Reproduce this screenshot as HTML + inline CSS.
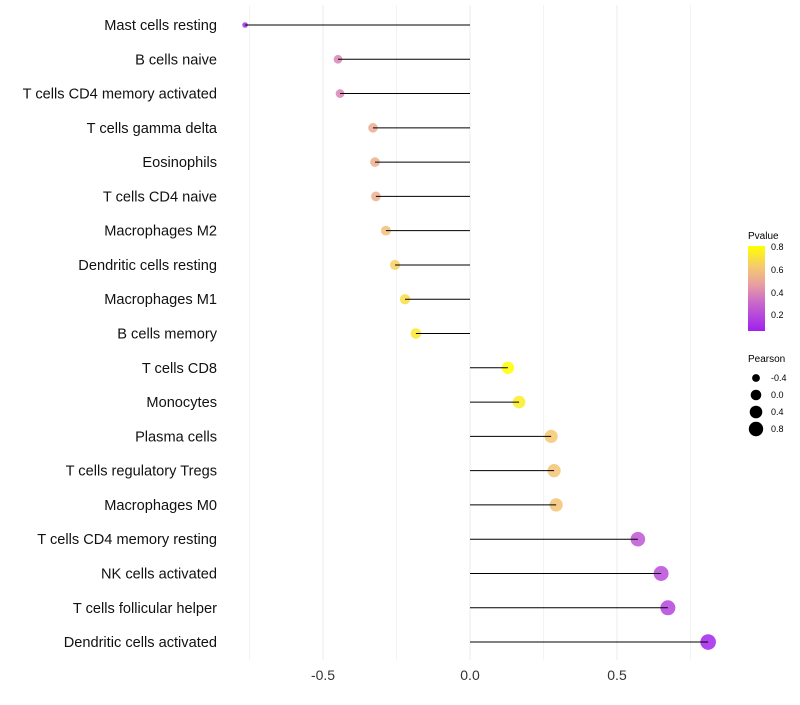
<!DOCTYPE html>
<html><head><meta charset="utf-8"><style>
body{margin:0;background:#fff;font-family:"Liberation Sans",sans-serif}
</style></head><body>
<svg id="chart" width="800" height="700" xmlns="http://www.w3.org/2000/svg">
<defs>
<linearGradient id="pg" x1="0" y1="1" x2="0" y2="0">
<stop offset="0" stop-color="#a020f0"/>
<stop offset="0.35" stop-color="#cc6cc8"/>
<stop offset="0.55" stop-color="#e8a0a0"/>
<stop offset="0.75" stop-color="#f5c870"/>
<stop offset="1" stop-color="#ffff00"/>
</linearGradient>
</defs>
<g id="grid"></g><g id="marks"></g><g id="labels"></g>
<g>
<text x="748" y="239" font-size="10" fill="#000">Pvalue</text>
<rect x="748" y="246" width="17" height="85" fill="url(#pg)"/>
<text x="771" y="250" font-size="9">0.8</text>
<text x="771" y="273" font-size="9">0.6</text>
<text x="771" y="296" font-size="9">0.4</text>
<text x="771" y="318" font-size="9">0.2</text>
</g>
<g>
<text x="748" y="362" font-size="10">Pearson</text>
<circle cx="756" cy="378" r="3.9"/><text x="771" y="381" font-size="9">-0.4</text>
<circle cx="756" cy="395" r="5.3"/><text x="771" y="398" font-size="9">0.0</text>
<circle cx="756" cy="412" r="6.3"/><text x="771" y="415" font-size="9">0.4</text>
<circle cx="756" cy="429" r="7.2"/><text x="771" y="432" font-size="9">0.8</text>
</g>
</svg>
<script>
const categories=["Mast cells resting","B cells naive","T cells CD4 memory activated","T cells gamma delta","Eosinophils","T cells CD4 naive","Macrophages M2","Dendritic cells resting","Macrophages M1","B cells memory","T cells CD8","Monocytes","Plasma cells","T cells regulatory  Tregs ","Macrophages M0","T cells CD4 memory resting","NK cells activated","T cells follicular helper","Dendritic cells activated"];
const pearson=[-0.765,-0.449,-0.442,-0.33,-0.323,-0.32,-0.286,-0.255,-0.221,-0.184,0.129,0.167,0.276,0.286,0.293,0.571,0.65,0.673,0.81];
const pvalue=[0.05,0.38,0.38,0.52,0.53,0.53,0.6,0.67,0.72,0.76,0.85,0.78,0.64,0.62,0.62,0.22,0.18,0.15,0.04];
const xTicks=[-0.5,0,0.5];
const xTickLabels=["-0.5","0.0","0.5"];
const NS="http://www.w3.org/2000/svg";
const x=v=>470+v*294;
const y=i=>25+i*34.28;
const stops=[[0.02,[160,32,240]],[0.3,[204,108,200]],[0.47,[232,160,160]],[0.64,[245,200,112]],[0.85,[255,255,0]]];
function col(p){if(p<=stops[0][0])return stops[0][1];for(let k=1;k<stops.length;k++){if(p<=stops[k][0]){const a=stops[k-1],b=stops[k],t=(p-a[0])/(b[0]-a[0]);return a[1].map((c,j)=>Math.round(c+(b[1][j]-c)*t));}}return stops[stops.length-1][1];}
function el(t,a,p){const e=document.createElementNS(NS,t);for(const k in a)e.setAttribute(k,a[k]);p.appendChild(e);return e;}
const grid=document.getElementById('grid'),marks=document.getElementById('marks'),labels=document.getElementById('labels');
for(let v=-0.75;v<=0.76;v+=0.25){const g=el('line',{x1:x(v),x2:x(v),y1:5,y2:660,stroke:'#ebebeb','stroke-width':Math.abs(v*4)%2<0.01?1:0.6},grid);

}
xTicks.forEach((v,i)=>{const t=el('text',{x:x(v),y:680,'font-size':14,'text-anchor':'middle',fill:'#333'},labels);t.textContent=xTickLabels[i];

});
categories.forEach((c,i)=>{
const t=el('text',{x:217,y:y(i)+5,'font-size':14.6,'text-anchor':'end',fill:'#111'},labels);t.textContent=c;


const r=Math.max(1.8,Math.sqrt(Math.max(0,28.6+30.5*pearson[i]))+0.5);
const cc=col(pvalue[i]);
const d=el('circle',{cx:x(pearson[i]),cy:y(i),r:r,fill:`rgb(${cc})`,'fill-opacity':0.85},marks);


const s=el('line',{x1:x(0),x2:x(pearson[i]),y1:y(i),y2:y(i),stroke:'#000','stroke-width':1},marks);


});
</script>
</body></html>
